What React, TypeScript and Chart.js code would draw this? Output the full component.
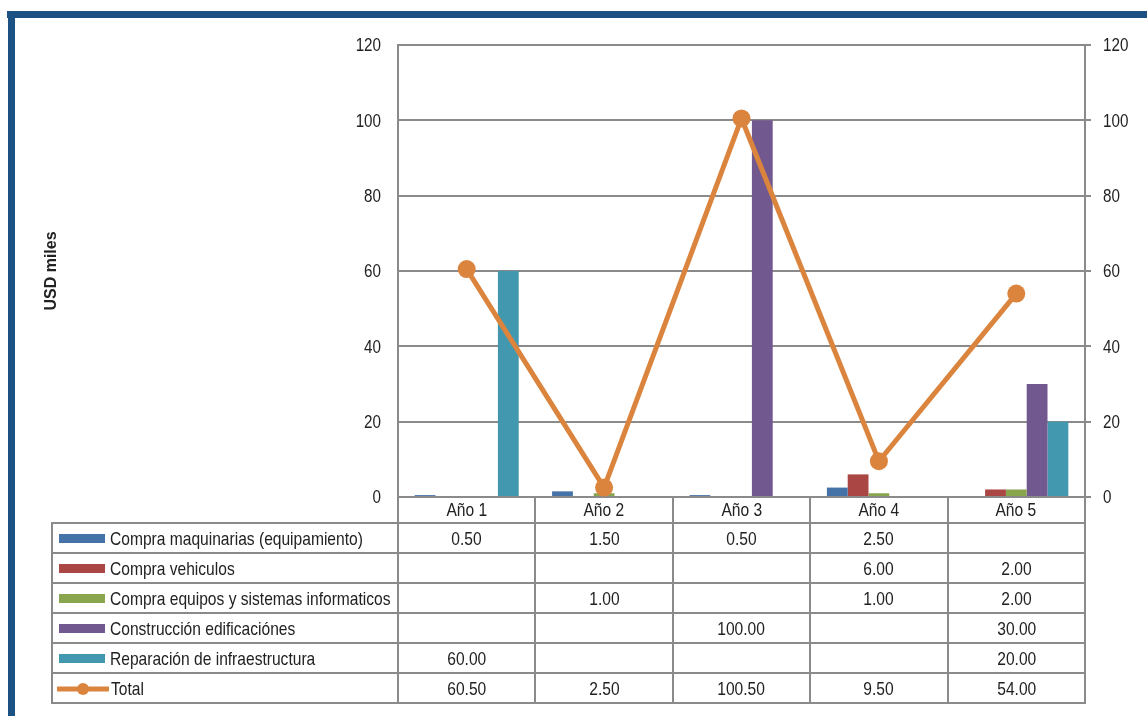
import React, { useEffect, useRef } from "react";
import { Chart, registerables } from "chart.js";

Chart.register(...registerables);

const categories = ["Año 1", "Año 2", "Año 3", "Año 4", "Año 5"];
const maquinaria = [0.5, 1.5, 0.5, 2.5, null];
const vehiculos = [null, null, null, 6.0, 2.0];
const equipos = [null, 1.0, null, 1.0, 2.0];
const construccion = [null, null, 100.0, null, 30.0];
const reparacion = [60.0, null, null, null, 20.0];
const total = [60.5, 2.5, 100.5, 9.5, 54.0];
const yTicks = [0, 20, 40, 60, 80, 100, 120];

const seriesNames = [
  "Compra maquinarias (equipamiento)",
  "Compra vehiculos",
  "Compra equipos y sistemas informaticos",
  "Construcción edificaciónes",
  "Reparación de infraestructura",
  "Total",
];
const seriesColors = ["#4572A7", "#AA4643", "#89A54E", "#71588F", "#4198AF", "#DB843D"];
const seriesData = [maquinaria, vehiculos, equipos, construccion, reparacion, total];

const FONT = "'Liberation Sans', Arial, sans-serif";
const FONT_SIZE = 19;
const NARROW_TICKS = 0.8;
const NARROW_TABLE = 0.82;
const GRID = "#8a8a8a";
const TEXT = "#222";

// layout constants
const W = 1147;
const CANVAS_H = 540;
const PLOT_L = 398;
const PLOT_R = 1085;
const PLOT_T = 45;
const PLOT_B = 497;
const TABLE_L = 52;
const HEADER_H = 27;
const ROW_H = 30;

function fmt(v: number | null) {
  return v === null || v === undefined ? "" : v.toFixed(2);
}

// draws the axis tick labels in a condensed face (narrow font not installed)
const narrowTicks = {
  id: "narrowTicks",
  afterDraw(chart: any) {
    const ctx = chart.ctx as CanvasRenderingContext2D;
    const { left, right } = chart.chartArea;
    ctx.save();
    ctx.font = `${FONT_SIZE}px ${FONT}`;
    ctx.fillStyle = TEXT;
    ctx.textBaseline = "middle";
    (["y", "y2"] as const).forEach((id) => {
      const s = chart.scales[id];
      s.ticks.forEach((t: any) => {
        const py = s.getPixelForValue(t.value);
        ctx.save();
        if (id === "y") {
          ctx.translate(left - 17, py);
          ctx.textAlign = "right";
        } else {
          ctx.translate(right + 18, py);
          ctx.textAlign = "left";
        }
        ctx.scale(NARROW_TICKS, 1);
        ctx.fillText(String(t.value), 0, 1);
        ctx.restore();
      });
    });
    ctx.restore();
  },
};

export default function App() {
  const ref = useRef<HTMLCanvasElement | null>(null);

  useEffect(() => {
    if (!ref.current) return;
    const barSets = [0, 1, 2, 3, 4].map((i) => ({
      type: "bar" as const,
      label: seriesNames[i],
      data: seriesData[i],
      backgroundColor: seriesColors[i],
      borderWidth: 0,
      categoryPercentage: 0.757,
      barPercentage: 1,
      yAxisID: "y",
      order: 1,
    }));
    const chart = new Chart(ref.current, {
      type: "bar",
      data: {
        labels: categories,
        datasets: [
          ...barSets,
          {
            type: "line" as const,
            label: seriesNames[5],
            data: total,
            borderColor: seriesColors[5],
            backgroundColor: seriesColors[5],
            borderWidth: 5,
            pointRadius: 9,
            pointBorderWidth: 0,
            pointBackgroundColor: seriesColors[5],
            yAxisID: "y",
            order: 0,
          },
        ] as any,
      },
      plugins: [narrowTicks],
      options: {
        responsive: false,
        animation: false,
        layout: { padding: { top: PLOT_T, bottom: CANVAS_H - PLOT_B, left: 0, right: 0 } },
        plugins: { legend: { display: false }, tooltip: { enabled: false } },
        scales: {
          x: { display: false, offset: true },
          y: {
            position: "left",
            min: 0,
            max: 120,
            afterBuildTicks: (s: any) => {
              s.ticks = yTicks.map((v) => ({ value: v }));
            },
            ticks: { display: false },
            grid: { color: GRID, lineWidth: 2, drawTicks: false },
            border: { color: GRID, width: 2 },
            title: {
              display: true,
              text: "USD miles",
              font: { family: FONT, size: 16, weight: "bold" },
              color: TEXT,
              padding: { top: 42, bottom: 0 },
            },
            afterFit: (s: any) => {
              s.width = PLOT_L;
            },
          },
          y2: {
            position: "right",
            min: 0,
            max: 120,
            afterBuildTicks: (s: any) => {
              s.ticks = yTicks.map((v) => ({ value: v }));
            },
            ticks: { display: false },
            grid: { drawOnChartArea: false, color: GRID, lineWidth: 2, tickLength: 6 },
            border: { color: GRID, width: 2 },
            afterFit: (s: any) => {
              s.width = W - PLOT_R;
            },
          },
        },
      } as any,
    });
    return () => chart.destroy();
  }, []);

  const colW = (PLOT_R - PLOT_L) / categories.length;
  const border = `2px solid ${GRID}`;
  const cellBase: React.CSSProperties = {
    padding: 0,
    textAlign: "center",
    verticalAlign: "middle",
    color: TEXT,
    fontFamily: FONT,
    fontSize: FONT_SIZE,
    whiteSpace: "nowrap",
    overflow: "hidden",
    boxSizing: "border-box",
  };
  const narrowText = (txt: string, origin: string) => (
    <span
      style={{
        display: "inline-block",
        transform: `scaleX(${NARROW_TABLE})`,
        transformOrigin: origin,
        verticalAlign: "middle",
        lineHeight: "20px",
      }}
    >
      {txt}
    </span>
  );

  const swatch = (i: number) => {
    if (i === 5) {
      return (
        <svg width={52} height={14} style={{ display: "inline-block", verticalAlign: "middle", marginLeft: 4, marginRight: 2 }}>
          <line x1={1} y1={7} x2={51} y2={7} stroke={seriesColors[5]} strokeWidth={5} strokeLinecap="round" />
          <circle cx={26} cy={7} r={6} fill={seriesColors[5]} />
        </svg>
      );
    }
    return (
      <span
        style={{
          display: "inline-block",
          width: 46,
          height: 9,
          background: seriesColors[i],
          verticalAlign: "middle",
          marginLeft: 6,
          marginRight: 5,
        }}
      />
    );
  };

  return (
    <div style={{ position: "absolute", left: 0, top: 0, width: W, height: 716, background: "#fff", overflow: "hidden" }}>
      <div style={{ position: "absolute", left: 7, top: 11, width: W - 7, height: 7, background: "#1B5283" }} />
      <div style={{ position: "absolute", left: 8, top: 11, width: 7, height: 716 - 11, background: "#1B5283" }} />
      <canvas ref={ref} width={W} height={CANVAS_H} style={{ position: "absolute", left: 0, top: 0, width: W, height: CANVAS_H }} />
      <table
        style={{
          position: "absolute",
          left: TABLE_L - 1,
          top: PLOT_B - 1,
          width: PLOT_R - TABLE_L + 2,
          borderCollapse: "collapse",
          tableLayout: "fixed",
        }}
      >
        <colgroup>
          <col style={{ width: PLOT_L - TABLE_L }} />
          {categories.map((c) => (
            <col key={c} style={{ width: colW }} />
          ))}
        </colgroup>
        <tbody>
          <tr style={{ height: HEADER_H }}>
            <td style={{ ...cellBase, borderRight: border, borderBottom: border }} />
            {categories.map((c) => (
              <td key={c} style={{ ...cellBase, borderLeft: border, borderRight: border, borderBottom: border }}>
                {narrowText(c, "center")}
              </td>
            ))}
          </tr>
          {seriesNames.map((name, i) => (
            <tr key={name} style={{ height: ROW_H }}>
              <td style={{ ...cellBase, textAlign: "left", border }}>
                {swatch(i)}
                {narrowText(name, "left center")}
              </td>
              {seriesData[i].map((v, j) => (
                <td key={j} style={{ ...cellBase, border }}>
                  {narrowText(fmt(v as number | null), "center")}
                </td>
              ))}
            </tr>
          ))}
        </tbody>
      </table>
    </div>
  );
}
